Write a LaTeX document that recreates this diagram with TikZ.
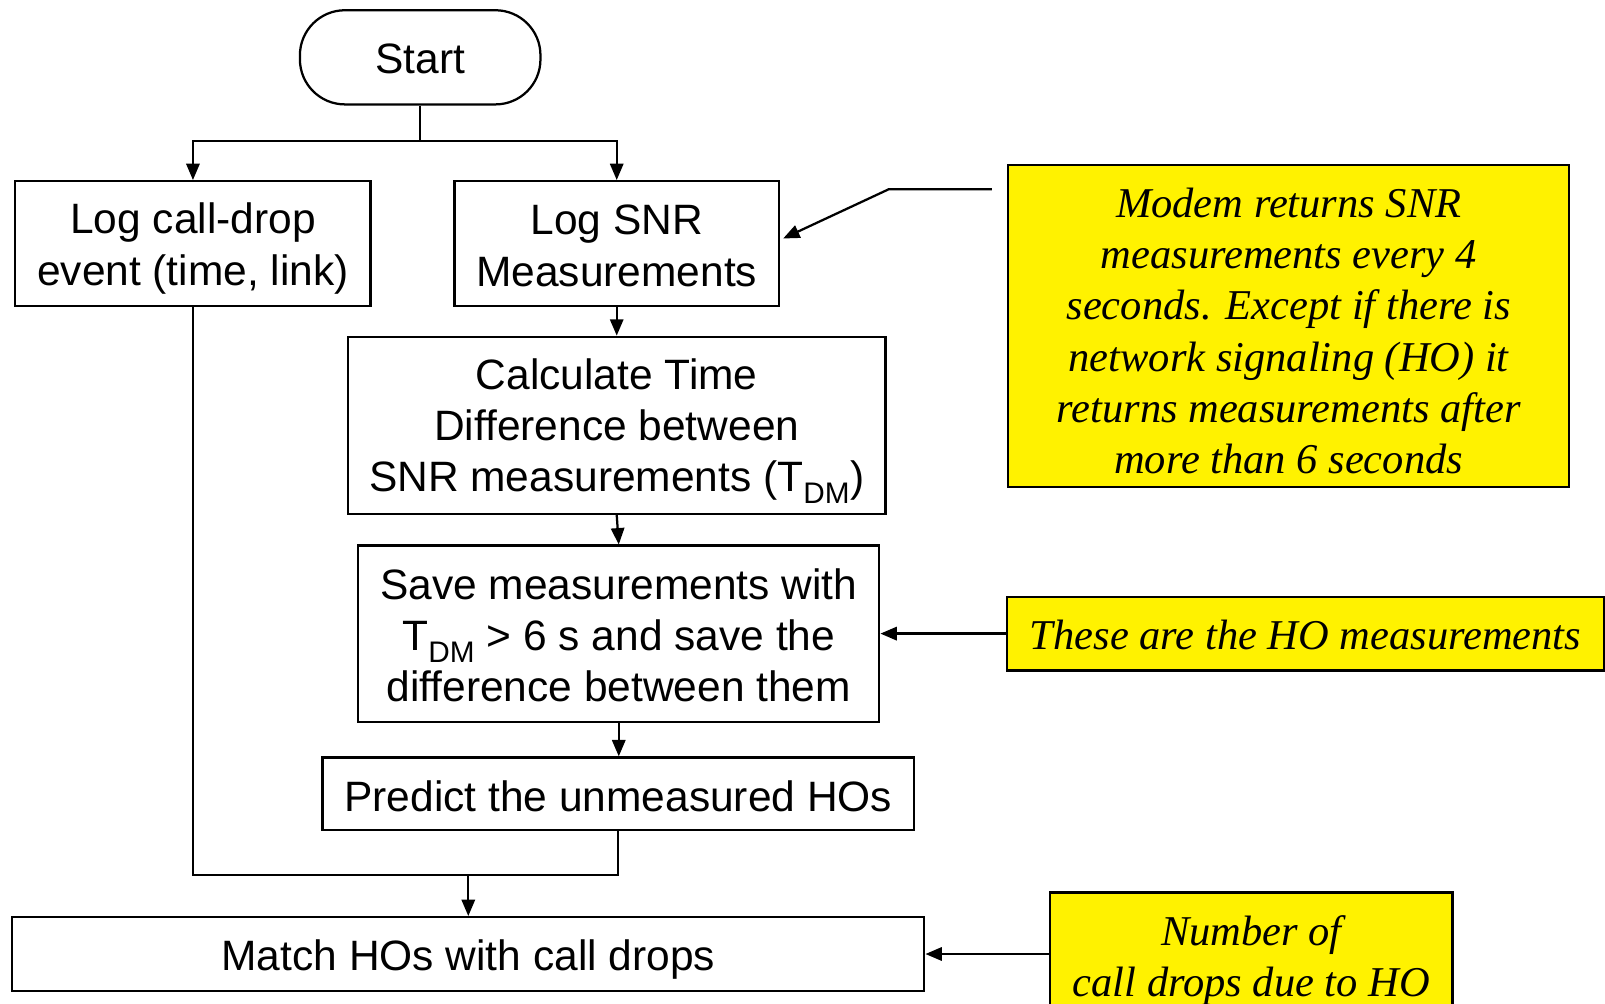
\documentclass[tikz,border=0pt]{standalone}
\usepackage{fontspec}
\setmainfont{Liberation Sans}
\newfontfamily\notefont{Liberation Serif}
\usetikzlibrary{arrows.meta}
\newcommand\tdm{T\textsubscript{DM}}
% invisible struts that fix the height of a first line and the depth of a last line
\newcommand\lnhead[1]{\rule{0pt}{#1pt}}
\newcommand\lntail[1]{\rule[-#1pt]{0pt}{#1pt}}
\begin{document}
\begin{tikzpicture}[x=1pt,y=-1pt,
  line width=2.2pt,
  every node/.style={align=center,font=\fontsize{41.5}{50}\selectfont,inner sep=0pt},
  stepbox/.style={draw,rectangle},
  termbox/.style={draw,rectangle,rounded corners=44pt},
  notebox/.style={draw,rectangle,fill=yellow,font=\notefont\itshape\fontsize{41.5}{50}\selectfont},
  flow/.style={-{Triangle[length=16pt,width=13pt]}}]
  \clip (0,0) rectangle (1568,980);
  \fill[white] (0,0) rectangle (1568,980);

  % process steps
  \node[termbox,minimum width=235,minimum height=92] (start) at (410.5,56) {\lnhead{41}Start\lntail{9}};
  \node[stepbox,minimum width=347,minimum height=122] (drop) at (188.5,238) {\lnhead{40}Log call-drop\\event (time, link)\lntail{9}};
  \node[stepbox,minimum width=317,minimum height=122] (snr) at (602.5,238) {\lnhead{42}Log SNR\\Measurements\lntail{9}};
  \node[stepbox,minimum width=525,minimum height=173] (calc) at (602.5,415.5) {\lnhead{41}Calculate Time\\Difference between\\SNR measurements (\tdm)\lntail{9}};
  \node[stepbox,minimum width=509,minimum height=172] (save) at (604.5,619) {\lnhead{42}Save measurements with\\\tdm{} > 6 s and save the\\difference between them\lntail{9}};
  \node[stepbox,minimum width=578,minimum height=71] (pred) at (604,775.5) {\lnhead{43}Predict the unmeasured HOs\lntail{9}};
  \node[stepbox,minimum width=891,minimum height=72] (match) at (457.5,932) {\lnhead{42}Match HOs with call drops\lntail{9}};

  % notes
  \node[notebox,minimum width=548,minimum height=315] (n1) at (1259,318.5) {\lnhead{47}Modem returns SNR\\measurements every 4\\seconds. Except if there is\\network signaling (HO) it\\returns measurements after\\more than 6 seconds\lntail{9}};
  \node[notebox,minimum width=583,minimum height=72] (n2) at (1275.5,619) {\lnhead{41}These are the HO measurements\lntail{9}};
  \node[notebox,minimum width=393,minimum height=126] (n3) at (1222.5,935) {\lnhead{36}Number of\\call drops due to HO\lntail{9}};

  % connectors
  \coordinate (split) at (410.5,138);
  \coordinate (merge) at (457.5,855);
  \coordinate (n1lead) at (969,185);
  \draw (start.south) -- (split);
  \draw[flow] (split) -| (drop.north);
  \draw[flow] (split) -| (snr.north);
  \draw[flow] (snr.south) -- (calc.north);
  \draw[flow] (calc.south) -- (save.north);
  \draw[flow] (save.south) -- (save.south |- pred.north);
  \draw (drop.south) |- (pred.south |- merge) -- (pred.south);
  \draw[flow] (merge) -- (match.north);
  \draw[flow] (n1lead) -- (868,185) -- ([xshift=3pt,yshift=5pt]snr.east);
  \draw[flow] (n2.west) -- (save.east);
  \draw[flow] (n3.west |- match.east) -- (match.east);
\end{tikzpicture}
\end{document}
